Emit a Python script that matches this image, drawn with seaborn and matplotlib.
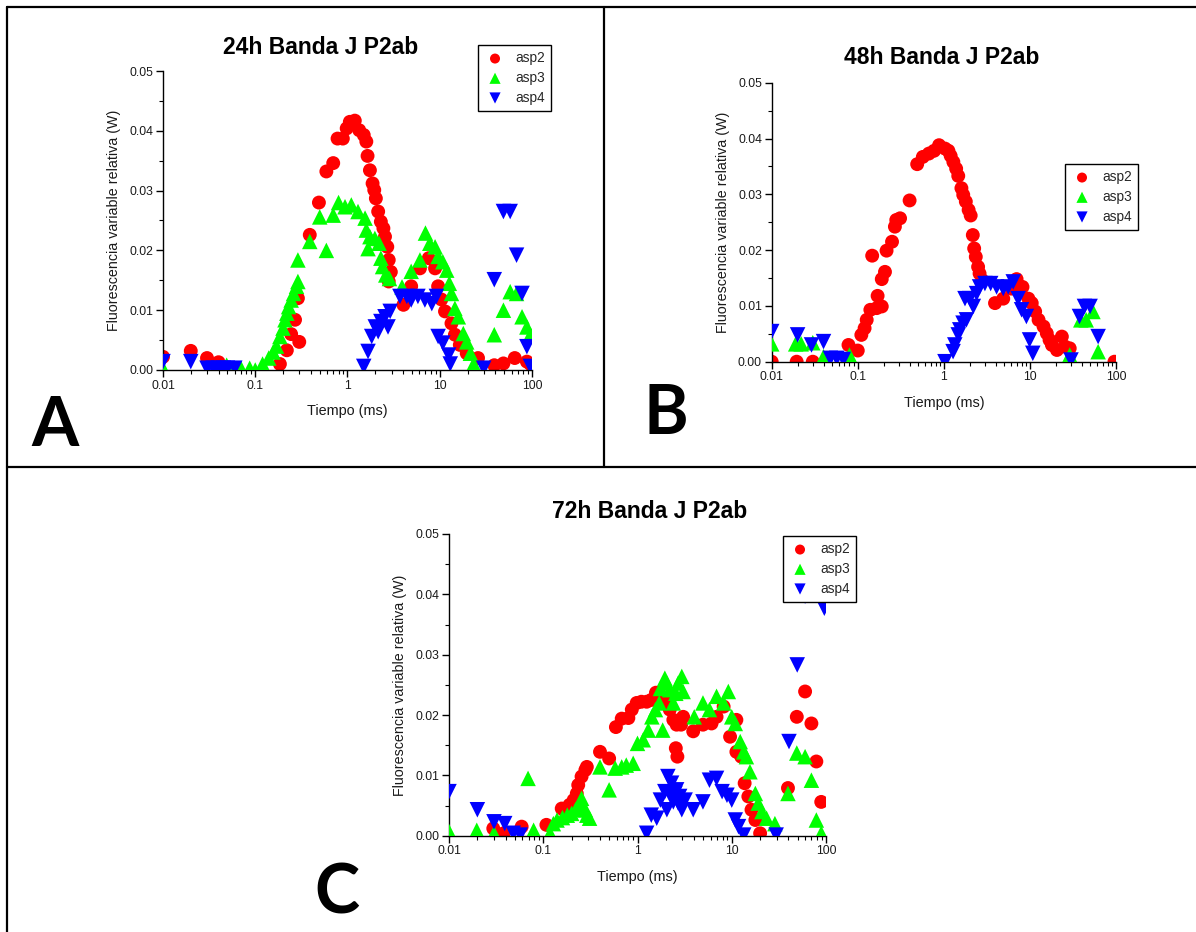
import numpy as np
import pandas as pd
import matplotlib
matplotlib.use("Agg")
import matplotlib.pyplot as plt
import seaborn as sns
from matplotlib.lines import Line2D
from matplotlib.ticker import FixedLocator, FixedFormatter, FormatStrFormatter, MultipleLocator, LogLocator, NullFormatter

# ---------------- data ----------------
series_names = ["asp2", "asp3", "asp4"]
titles = ["24h Banda J P2ab", "48h Banda J P2ab", "72h Banda J P2ab"]
panel_letters = ["A", "B", "C"]
x_tick_values = [0.01, 0.1, 1, 10, 100]
x_tick_labels = ["0.01", "0.1", "1", "10", "100"]
y_tick_values = [0.00, 0.01, 0.02, 0.03, 0.04, 0.05]

# 24h
a_asp2_t = [0.01, 0.02, 0.03, 0.04, 0.185, 0.22, 0.245, 0.27, 0.29, 0.3, 0.39, 0.49, 0.59, 0.70, 0.78, 0.89,
            0.98, 1.06, 1.2, 1.34, 1.5, 1.6, 1.65, 1.75, 1.87, 1.95, 2.03, 2.15, 2.3, 2.45, 2.55, 2.7, 2.8,
            2.95, 2.8, 4.04, 4.9, 6.1, 7.6, 8.9, 9.6, 10.4, 11.4, 13.4, 14.6, 16.5, 19.6, 26, 39, 49, 65, 88, 96]
a_asp2_v = [0.0022, 0.0032, 0.002, 0.0013, 0.001, 0.0033, 0.006, 0.0084, 0.012, 0.0047, 0.0226, 0.028, 0.0332,
            0.0346, 0.0387, 0.0387, 0.0404, 0.0415, 0.0417, 0.0401, 0.0393, 0.0382, 0.0358, 0.0334, 0.0312,
            0.0301, 0.0287, 0.0265, 0.0248, 0.0237, 0.0223, 0.0206, 0.0184, 0.0164, 0.0148, 0.0109, 0.014,
            0.017, 0.0187, 0.017, 0.014, 0.0118, 0.0098, 0.0078, 0.0059, 0.0042, 0.0028, 0.002, 0.0008,
            0.0011, 0.002, 0.0014, 0.001]
a_asp3_t = [0.01, 0.049, 0.07, 0.087, 0.1, 0.12, 0.14, 0.156, 0.17, 0.185, 0.2, 0.21, 0.22, 0.23, 0.245, 0.26,
            0.28, 0.29, 0.29, 0.39, 0.5, 0.59, 0.7, 0.8, 0.94, 1.1, 1.3, 1.55, 1.6, 1.75, 1.67, 1.98, 2.2, 2.3,
            2.4, 2.6, 2.85, 3.9, 4.9, 6.1, 7.0, 7.8, 8.9, 9.6, 10.8, 11.9, 12.7, 13.4, 14.6, 15.9, 18, 19.6,
            21.5, 23.3, 39, 49, 58, 68, 78, 88, 96]
a_asp3_v = [0.0003, 0.0008, 0.0003, 0.0003, 0.0, 0.001, 0.002, 0.003, 0.004, 0.0056, 0.007, 0.0084, 0.0095,
            0.0106, 0.0117, 0.0128, 0.014, 0.0148, 0.0184, 0.0215, 0.0256, 0.02, 0.0259, 0.028, 0.0273, 0.0276,
            0.0265, 0.0254, 0.0234, 0.0223, 0.0203, 0.022, 0.0212, 0.0187, 0.0173, 0.0159, 0.0153, 0.0139,
            0.0165, 0.0184, 0.0229, 0.0212, 0.0206, 0.019, 0.0181, 0.0167, 0.0145, 0.0128, 0.0103, 0.0089,
            0.0061, 0.0047, 0.0028, 0.001, 0.0059, 0.01, 0.0131, 0.0128, 0.0089, 0.0072, 0.0059]
a_asp4_t = [0.01, 0.02, 0.03, 0.035, 0.04, 0.045, 0.05, 0.06, 1.5, 1.67, 1.83, 2.0, 2.15, 2.3, 2.55, 2.75,
            2.9, 3.7, 4.4, 4.9, 5.8, 6.9, 8.2, 9.2, 9.6, 10.8, 12.5, 13, 30, 39, 49, 58, 68, 78, 88, 96]
a_asp4_v = [0.0014, 0.0014, 0.0003, 0.0003, 0.0003, 0.0003, 0.0003, 0.0003, 0.0006, 0.0031, 0.0056, 0.0072,
            0.0064, 0.0081, 0.0089, 0.0072, 0.0098, 0.0123, 0.0123, 0.0117, 0.0123, 0.0117, 0.0111, 0.0123,
            0.0056, 0.0045, 0.0025, 0.001, 0.0003, 0.0151, 0.0265, 0.0265, 0.0192, 0.0128, 0.0039, 0.0006]

# 48h
b_asp2_t = [0.01, 0.0195, 0.03, 0.078, 0.1, 0.11, 0.12, 0.127, 0.14, 0.166, 0.19, 0.147, 0.17, 0.19, 0.207,
            0.216, 0.25, 0.27, 0.28, 0.31, 0.4, 0.49, 0.57, 0.67, 0.77, 0.88, 1.03, 1.13, 1.2, 1.29, 1.39,
            1.47, 1.6, 1.68, 1.8, 1.94, 2.05, 2.17, 2.25, 2.35, 2.5, 2.6, 2.8, 3.93, 4.9, 6.1, 7.0, 8.2, 9.6,
            10.5, 11.5, 12.6, 14.4, 15.7, 16.9, 18, 20.6, 23.5, 25.6, 29, 96]
b_asp2_v = [0.0, 0.0, 0.0, 0.003, 0.002, 0.0048, 0.006, 0.0075, 0.0093, 0.0096, 0.0099, 0.019, 0.0118, 0.0148,
            0.0161, 0.0199, 0.0215, 0.0242, 0.0254, 0.0257, 0.0289, 0.0354, 0.0367, 0.0373, 0.0378, 0.0388,
            0.0382, 0.0378, 0.0369, 0.0358, 0.0346, 0.0333, 0.0311, 0.0299, 0.0287, 0.0272, 0.0262, 0.0227,
            0.0203, 0.0188, 0.017, 0.0158, 0.0146, 0.0105, 0.0113, 0.0131, 0.0148, 0.0134, 0.0113, 0.0105,
            0.009, 0.0075, 0.0063, 0.0051, 0.0039, 0.003, 0.0021, 0.0045, 0.0027, 0.0024, 0.0]
b_asp3_t = [0.01, 0.019, 0.022, 0.03, 0.04, 0.08, 29, 39, 45, 54, 62]
b_asp3_v = [0.0032, 0.0032, 0.0032, 0.0034, 0.0009, 0.0012, 0.0012, 0.0075, 0.0075, 0.009, 0.0018]
b_asp4_t = [0.01, 0.02, 0.029, 0.04, 0.048, 0.057, 0.068, 1.03, 1.28, 1.34, 1.47, 1.53, 1.67, 1.83, 1.76, 2.0,
            2.2, 2.4, 2.6, 3.0, 3.5, 4.1, 4.9, 5.6, 6.4, 7.3, 8.0, 9.1, 9.9, 10.8, 30, 37.6, 43, 50, 62]
b_asp4_v = [0.0054, 0.0048, 0.003, 0.0036, 0.0006, 0.0006, 0.0004, 0.0, 0.0018, 0.003, 0.0048, 0.0057, 0.0069,
            0.0075, 0.0113, 0.0113, 0.0099, 0.0122, 0.0134, 0.014, 0.014, 0.0134, 0.0131, 0.0134, 0.0143,
            0.0113, 0.0093, 0.0081, 0.0039, 0.0015, 0.0003, 0.0081, 0.0099, 0.0099, 0.0045]

# 72h
c_asp2_t = [0.0295, 0.038, 0.059, 0.108, 0.157, 0.177, 0.19, 0.21, 0.227, 0.235, 0.255, 0.28, 0.29, 0.4, 0.5,
            0.59, 0.68, 0.8, 0.87, 0.98, 1.1, 1.25, 1.4, 1.57, 1.8, 2.03, 2.2, 2.4, 2.6, 2.55, 2.65, 2.9, 3.05,
            3.9, 4.95, 6.1, 6.9, 8.2, 9.6, 11.2, 11.2, 12.6, 13.7, 15, 16.2, 17.8, 20, 39.5, 49, 60, 70, 79, 89]
c_asp2_v = [0.0012, 0.0004, 0.0015, 0.0018, 0.0045, 0.0034, 0.0051, 0.0059, 0.007, 0.0084, 0.0098, 0.0109,
            0.0114, 0.0139, 0.0128, 0.018, 0.0194, 0.0195, 0.0209, 0.022, 0.0222, 0.0222, 0.0225, 0.0237,
            0.022, 0.022, 0.0209, 0.0192, 0.0184, 0.0145, 0.0131, 0.0184, 0.0197, 0.0173, 0.0184, 0.0186,
            0.0197, 0.0214, 0.0164, 0.0192, 0.0139, 0.0131, 0.0087, 0.0065, 0.0043, 0.0026, 0.0004, 0.0079,
            0.0197, 0.0239, 0.0186, 0.0123, 0.0056]
c_asp3_t = [0.01, 0.0197, 0.03, 0.069, 0.079, 0.118, 0.128, 0.14, 0.16, 0.18, 0.2, 0.22, 0.245, 0.255, 0.28,
            0.29, 0.31, 0.4, 0.5, 0.58, 0.68, 0.76, 0.9, 1.0, 1.15, 1.3, 1.42, 1.55, 1.7, 1.75, 1.85, 1.95,
            2.05, 2.2, 2.4, 2.55, 2.7, 2.95, 3.05, 4.0, 4.95, 5.8, 6.9, 8.2, 9.2, 10, 10.9, 12.3, 13.4, 14.3,
            15.6, 17.8, 19.1, 20.9, 23.4, 28.7, 39.5, 49, 60, 70, 79, 89]
c_asp3_v = [0.0007, 0.0009, 0.0004, 0.0095, 0.0009, 0.0004, 0.002, 0.0026, 0.003, 0.0034, 0.0037, 0.0043,
            0.0051, 0.0062, 0.0043, 0.0034, 0.0029, 0.0114, 0.0076, 0.0112, 0.0114, 0.0117, 0.012, 0.0153,
            0.0159, 0.0175, 0.0197, 0.0209, 0.022, 0.0244, 0.0175, 0.0261, 0.0253, 0.0242, 0.022, 0.0236,
            0.0253, 0.0264, 0.0239, 0.0197, 0.022, 0.0209, 0.0231, 0.022, 0.0239, 0.0197, 0.0186, 0.0156,
            0.0139, 0.0131, 0.0106, 0.007, 0.0054, 0.004, 0.0029, 0.002, 0.007, 0.0137, 0.0131, 0.0092,
            0.0026, 0.0004]
c_asp4_t = [0.01, 0.02, 0.03, 0.039, 0.048, 0.057, 1.25, 1.4, 1.6, 1.75, 1.95, 2.05, 2.1, 2.2, 2.3, 2.4, 2.5,
            2.6, 2.7, 2.8, 2.95, 3.2, 3.9, 4.95, 5.8, 6.9, 7.9, 8.9, 10, 10.9, 11.8, 13.4, 29.6, 40.5, 49.5,
            60, 96]
c_asp4_v = [0.0073, 0.0043, 0.0023, 0.002, 0.0004, 0.0001, 0.0004, 0.0034, 0.0029, 0.0059, 0.0073, 0.0043,
            0.0098, 0.007, 0.0087, 0.0056, 0.007, 0.0076, 0.0054, 0.0065, 0.0043, 0.0059, 0.0043, 0.0056,
            0.0092, 0.0095, 0.0073, 0.0067, 0.0059, 0.0026, 0.0015, 0.0001, 0.0001, 0.0156, 0.0283, 0.0397,
            0.0377]

panels = [
    [(a_asp2_t, a_asp2_v), (a_asp3_t, a_asp3_v), (a_asp4_t, a_asp4_v)],
    [(b_asp2_t, b_asp2_v), (b_asp3_t, b_asp3_v), (b_asp4_t, b_asp4_v)],
    [(c_asp2_t, c_asp2_v), (c_asp3_t, c_asp3_v), (c_asp4_t, c_asp4_v)],
]

# ---------------- style / layout ----------------
sns.set_theme(style="white")
plt.rcParams['font.family'] = ['Liberation Sans', 'DejaVu Sans']

W, H = 1196, 932
fig = plt.figure(figsize=(W / 100, H / 100), dpi=100)
fig.patch.set_facecolor("white")

def fx(px):
    return px / W

def fy(py):
    return 1 - py / H

colors = ["#FF0000", "#00FF00", "#0000FF"]
markers = ["o", "^", "v"]
sizes = [100, 125, 125]

# axes boxes in pixels: left, right, top, bottom
axes_px = [(163, 532, 71, 370), (771.7, 1116, 82.7, 361.7), (449, 826, 534, 835.7)]
title_px = [(321, 47), (941.5, 57), (650, 511)]
legend_px = [(478, 45), (1065, 164), (783, 536)]
letter_px = [(55, 446), (666, 434), (337, 914)]

for i in range(3):
    l, r, t, b = axes_px[i]
    ax = fig.add_axes([fx(l), fy(b), fx(r) - fx(l), fy(t) - fy(b)])
    for j in range(3):
        xs, ys = panels[i][j]
        df = pd.DataFrame({"t": xs, "v": ys})
        sns.scatterplot(data=df, x="t", y="v", ax=ax, color=colors[j], marker=markers[j],
                        s=sizes[j], edgecolor="none", linewidth=0, label=series_names[j], zorder=2 + j)
    ax.set_xscale("log")
    ax.set_xlim(0.01, 100)
    ax.set_ylim(0, 0.05)
    ax.xaxis.set_major_locator(FixedLocator(x_tick_values))
    ax.xaxis.set_major_formatter(FixedFormatter(x_tick_labels))
    ax.xaxis.set_minor_locator(LogLocator(base=10, subs=np.arange(2, 10)))
    ax.xaxis.set_minor_formatter(NullFormatter())
    ax.yaxis.set_major_locator(FixedLocator(y_tick_values))
    ax.yaxis.set_major_formatter(FormatStrFormatter("%.2f"))
    ax.yaxis.set_minor_locator(MultipleLocator(0.005))
    for side in ["top", "right"]:
        ax.spines[side].set_visible(False)
    for side in ["left", "bottom"]:
        ax.spines[side].set_color("black")
        ax.spines[side].set_linewidth(1.0)
    ax.tick_params(which="major", direction="out", length=5, width=1, color="black",
                   labelsize=8.8, labelcolor="#1a1a1a", left=True, bottom=True, pad=2)
    ax.tick_params(which="minor", direction="out", length=3, width=0.8, color="black", left=True, bottom=True)
    ax.set_facecolor("white")
    ax.set_xlabel("Tiempo (ms)", fontsize=10.4, color="#1a1a1a", labelpad=9)
    ax.set_ylabel("Fluorescencia variable relativa (W)", fontsize=10.3, color="#1a1a1a", labelpad=6)
    ax.grid(False)

    handles, labels = ax.get_legend_handles_labels()
    ax.legend(handles, labels, loc="upper left",
              bbox_to_anchor=(fx(legend_px[i][0]), fy(legend_px[i][1])),
              bbox_transform=fig.transFigure, frameon=True, fancybox=False,
              edgecolor="black", framealpha=1, fontsize=9.8, markerscale=0.72,
              handletextpad=0.7, labelspacing=0.42, borderpad=0.45, handlelength=1.6,
              borderaxespad=0)
    ax.get_legend().get_frame().set_linewidth(1.0)
    ax.get_legend().set_zorder(10)

    fig.text(fx(title_px[i][0]), fy(title_px[i][1]), titles[i], ha="center", va="center",
             fontsize=16.5, fontweight="bold", color="black")
    fig.text(fx(letter_px[i][0]), fy(letter_px[i][1]), panel_letters[i], ha="center", va="baseline",
             fontsize=49, fontweight="bold", color="black", family=["Lato", "DejaVu Sans"])

# panel border lines
lw = 1.6
fig.add_artist(Line2D([fx(7), fx(7)], [0, fy(7)], color="black", lw=lw))
fig.add_artist(Line2D([fx(7), 1], [fy(7), fy(7)], color="black", lw=lw))
fig.add_artist(Line2D([fx(604), fx(604)], [fy(467), fy(7)], color="black", lw=lw))
fig.add_artist(Line2D([fx(7), 1], [fy(467), fy(467)], color="black", lw=lw))

fig.savefig("out.png", dpi=100, facecolor="white")
